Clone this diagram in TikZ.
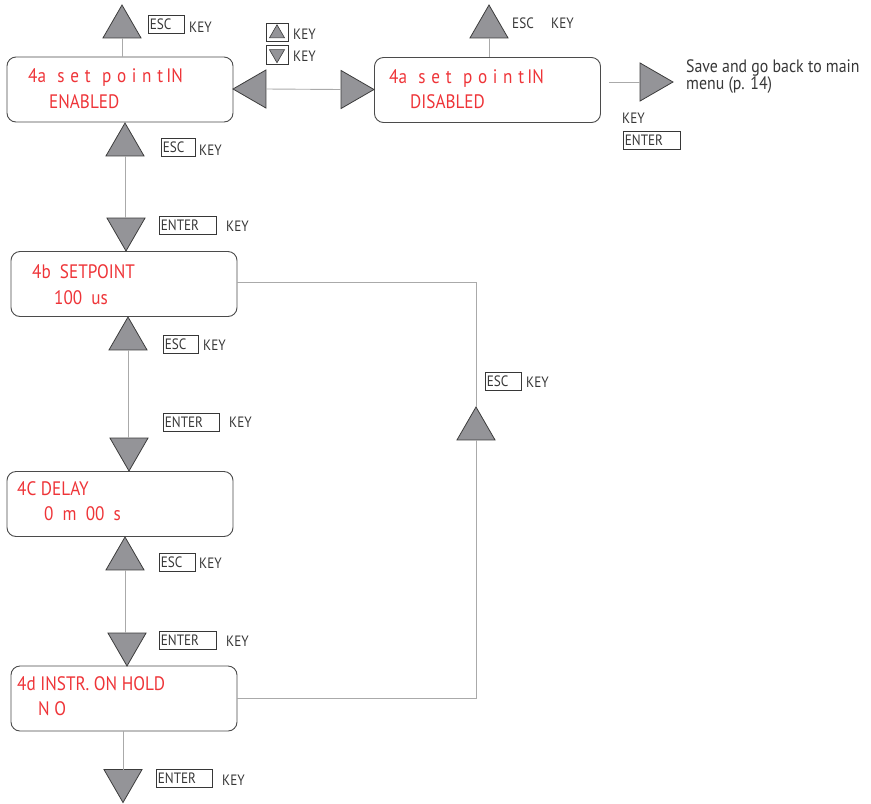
\documentclass[tikz,border=0pt]{standalone}
\usepackage{fontspec}
\setmainfont[FakeStretch=0.88]{PT Sans}
\usetikzlibrary{shapes.geometric}
\newcommand\lcdgap{\hspace{5.7pt}}

\begin{document}
\begin{tikzpicture}[x=1pt,y=1pt,yscale=-1,xscale=1,
  screen/.style={draw={rgb,255:red,75;green,75;blue,75}, line width=0.9, rounded corners=9, minimum width=226, minimum height=65, inner sep=0},
  keytri/.style={regular polygon, regular polygon sides=3, minimum size=43.9, inner sep=0, outer sep=0, draw={rgb,255:red,60;green,60;blue,60}, fill={rgb,255:red,148;green,148;blue,152}, line width=0.8},
  tinytri/.style={keytri, minimum size=17.5, line width=0.6},
  wire/.style={draw={rgb,255:red,170;green,170;blue,170}, line width=0.9},
  lcd/.style={text={rgb,255:red,238;green,52;blue,56}, font=\fontsize{19.5}{22}\selectfont, inner sep=0, anchor=base west},
  keytxt/.style={text={rgb,255:red,55;green,55;blue,55}, font=\fontsize{15}{17}\selectfont, inner sep=0, anchor=base west},
  notetxt/.style={keytxt, font=\fontsize{18}{16}\selectfont, align=left, anchor=north west},
  keybox/.style={keytxt, draw={rgb,255:red,55;green,55;blue,55}, line width=0.7, inner xsep=1.5, inner ysep=0, minimum height=18, text width=#1, align=left, anchor=north west},
  iconbox/.style={draw={rgb,255:red,55;green,55;blue,55}, line width=0.7, minimum width=22, minimum height=18.5, inner sep=0}
]
\useasboundingbox (0,0) rectangle (871,804);

%Shape: Screens
\node[screen] (sA) at (120,89.5) {};
\node[screen] (sB) at (487.5,90) {};
\node[screen] (s4b) at (124,284) {};
\node[screen] (s4c) at (120,504) {};
\node[screen] (s4d) at (124,698.5) {};

% Text Node
\node[lcd] (tA1) at (28,82) {4a\lcdgap\lcdgap s\lcdgap e\lcdgap t\lcdgap\lcdgap p\lcdgap o\lcdgap i\lcdgap n\lcdgap t\,IN};
\node[lcd] (tA2) at (49,108) {ENABLED};
\node[lcd] (tB1) at (389,83) {4a\lcdgap\lcdgap s\lcdgap e\lcdgap t\lcdgap\lcdgap p\lcdgap o\lcdgap i\lcdgap n\lcdgap t\,IN};
\node[lcd] (tB2) at (410,108) {DISABLED};
\node[lcd] (tb1) at (32,278) {4b\ \ SETPOINT};
\node[lcd] (tb2) at (54,304) {100\ \ us};
\node[lcd] (tc1) at (17,495) {4C DELAY};
\node[lcd] (tc2) at (44,520) {0\ \ m\ \ 00\ \ s};
\node[lcd] (td1) at (17,690) {4d INSTR. ON HOLD};
\node[lcd] (td2) at (38,715) {N\ O};

%Shape: Triangles
\node[keytri, anchor=corner 1] (t1) at (122,5) {};
\node[keytri, anchor=corner 1] (t2) at (125,123) {};
\node[keytri, shape border rotate=180, anchor=corner 1] (t3) at (126,251) {};
\node[keytri, anchor=corner 1] (t4) at (128,317) {};
\node[keytri, shape border rotate=180, anchor=corner 1] (t5) at (129,471) {};
\node[keytri, anchor=corner 1] (t6) at (125,537) {};
\node[keytri, shape border rotate=180, anchor=corner 1] (t7) at (127,666) {};
\node[keytri, shape border rotate=180, anchor=corner 1] (t8) at (123,802.5) {};
\node[keytri, shape border rotate=90, anchor=corner 1] (t9) at (233,89) {};
\node[keytri, shape border rotate=-90, anchor=corner 1] (t10) at (374,89.5) {};
\node[keytri, anchor=corner 1] (t11) at (489,5) {};
\node[keytri, shape border rotate=-90, anchor=corner 1] (t12) at (673,82) {};
\node[keytri, anchor=corner 1] (t13) at (476,407) {};
\coordinate (outB) at (609,82);

%Straight Lines
\draw[wire] (t1.side 2) -- (t1.side 2 |- sA.north);
\draw[wire] (t2.side 2) -- (t2.side 2 |- t3.side 2);
\draw[wire] (t4.side 2) -- (t4.side 2 |- t5.side 2);
\draw[wire] (t6.side 2) -- (t6.side 2 |- t7.side 2);
\draw[wire] (t8.side 2 |- s4d.south) -- (t8.side 2);
\draw[wire] (t9.side 2) -- (t10.side 2);
\draw[wire] (t11.side 2) -- (t11.side 2 |- sB.north);
\draw[wire] (outB) -- (t12.side 2);
\draw[wire] ([yshift=-2]s4b.east) -- ([yshift=-2]s4b.east -| t13.corner 1) -- (t13.corner 1);
\draw[wire] (t13.side 2) -- (t13.side 2 |- s4d.east) -- (s4d.east);

% Key labels
\node[keybox=33] (k1) at (148,15) {ESC};
\node[keytxt] (k1k) at (189,32) {KEY};
\node[keybox=31] (k2) at (161,138) {ESC};
\node[keytxt] (k2k) at (199,155) {KEY};
\node[keybox=54] (k3) at (159,216) {ENTER};
\node[keytxt] (k3k) at (226,231) {KEY};
\node[keybox=32] (k4) at (163,334.5) {ESC};
\node[keytxt] (k4k) at (203,350) {KEY};
\node[keybox=53] (k5) at (163,412.5) {ENTER};
\node[keytxt] (k5k) at (229,427) {KEY};
\node[keybox=33] (k6) at (159,552.5) {ESC};
\node[keytxt] (k6k) at (199,568) {KEY};
\node[keybox=54] (k7) at (159,630.5) {ENTER};
\node[keytxt] (k7k) at (226,646) {KEY};
\node[keybox=53] (k8) at (156,769) {ENTER};
\node[keytxt] (k8k) at (222,785) {KEY};
\node[keybox=33] (k9) at (485,372) {ESC};
\node[keytxt] (k9k) at (526,387) {KEY};
\node[keytxt] (k10) at (512,28) {ESC};
\node[keytxt] (k10k) at (551,28) {KEY};
\node[keytxt] (k11k) at (622,123) {KEY};
\node[keybox=54] (k11) at (623,130.5) {ENTER};

% Up / down keys
\node[iconbox] (iup) at (277,32.5) {};
\node[tinytri] (iupt) at ([yshift=1]iup.center) {};
\node[iconbox] (idn) at (277,55) {};
\node[tinytri, shape border rotate=180] (idnt) at ([yshift=-1]idn.center) {};
\node[keytxt] (iupk) at (293,39) {KEY};
\node[keytxt] (idnk) at (293,61) {KEY};

% Text Node
\node[notetxt] (save) at (686,59) {Save and go back to main\\menu (p. 14)};

\end{tikzpicture}
\end{document}
